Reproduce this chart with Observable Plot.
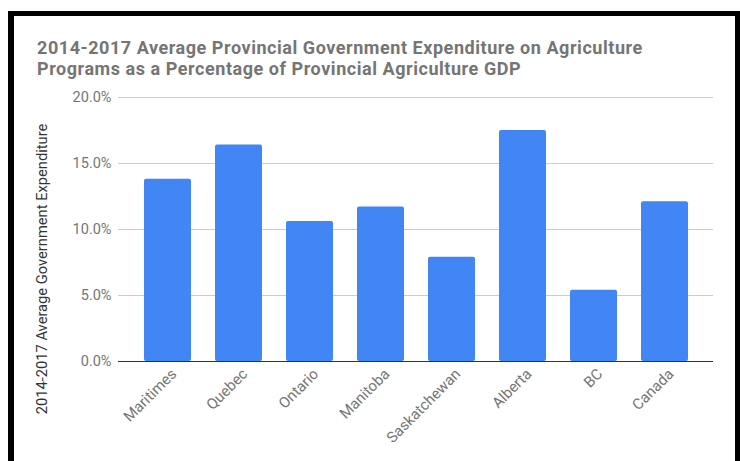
<!DOCTYPE html>
<html>
<head>
<meta charset="utf-8">
<script src="https://cdn.jsdelivr.net/npm/d3@7"></script>
<script src="https://cdn.jsdelivr.net/npm/@observablehq/plot@0.6"></script>
<style>
  html, body { margin: 0; padding: 0; background: #fff; }
  body { width: 740px; height: 461px; position: relative; overflow: hidden; font-family: Roboto, sans-serif; }
  #frame { position: absolute; left: 8px; top: 11px; width: 721px; height: 460px;
           border-left: 6px solid #000; border-top: 5px solid #000; border-right: 5px solid #000; }
  .title { position: absolute; left: 37px; font: bold 18px Roboto, sans-serif; letter-spacing: 0.55px; color: #757575;
           line-height: 21px; white-space: nowrap; }
  #ylabel { position: absolute; left: 42px; top: 269px; font: 14.7px Roboto, sans-serif; color: #333333;
            white-space: nowrap; transform: translate(-50%, -50%) rotate(-90deg); }
  #chart { position: absolute; left: 0; top: 0; }
</style>
</head>
<body>
<div id="frame"></div>
<div id="chart"></div>
<div class="title" style="top: 37px;">2014-2017 Average Provincial Government Expenditure on Agriculture</div>
<div class="title" style="top: 58px;">Programs as a Percentage of Provincial Agriculture GDP</div>
<div id="ylabel"></div>
<script>
const categories = ["Maritimes", "Quebec", "Ontario", "Manitoba", "Saskatchewan", "Alberta", "BC", "Canada"];
const values = [13.8, 16.4, 10.6, 11.7, 7.9, 17.5, 5.4, 12.1];
const yTicks = [0, 5, 10, 15, 20];
const yLabel = "2014-2017 Average Government Expenditure";

document.getElementById("ylabel").textContent = yLabel;

const data = categories.map((c, i) => ({category: c, value: values[i]}));

const chart = Plot.plot({
  width: 740,
  height: 461,
  marginLeft: 118,
  marginRight: 27,
  marginTop: 97,
  marginBottom: 100,
  style: {fontFamily: "Roboto, sans-serif", fontSize: "14.5px", color: "#757575", background: "transparent"},
  x: {domain: categories, paddingInner: 0.34, paddingOuter: 0.35, label: null},
  y: {domain: [0, 20], ticks: yTicks, label: null},
  marks: [
    Plot.gridY(yTicks, {stroke: "#cccccc", strokeOpacity: 1}),
    Plot.axisY({ticks: yTicks, tickSize: 0, tickPadding: 7, tickFormat: d => d.toFixed(1) + "%", label: null, fill: "#757575"}),
    Plot.axisX({tickSize: 0, tickRotate: -45, tickPadding: 8, dx: 6, dy: 2, fontSize: 15, label: null, fill: "#757575"}),
    Plot.barY(data, {x: "category", y: "value", fill: "#4285f4", rx: 2}),
    Plot.ruleY([0], {stroke: "#333333", strokeWidth: 1.2})
  ]
});
document.getElementById("chart").appendChild(chart);
</script>
</body>
</html>
